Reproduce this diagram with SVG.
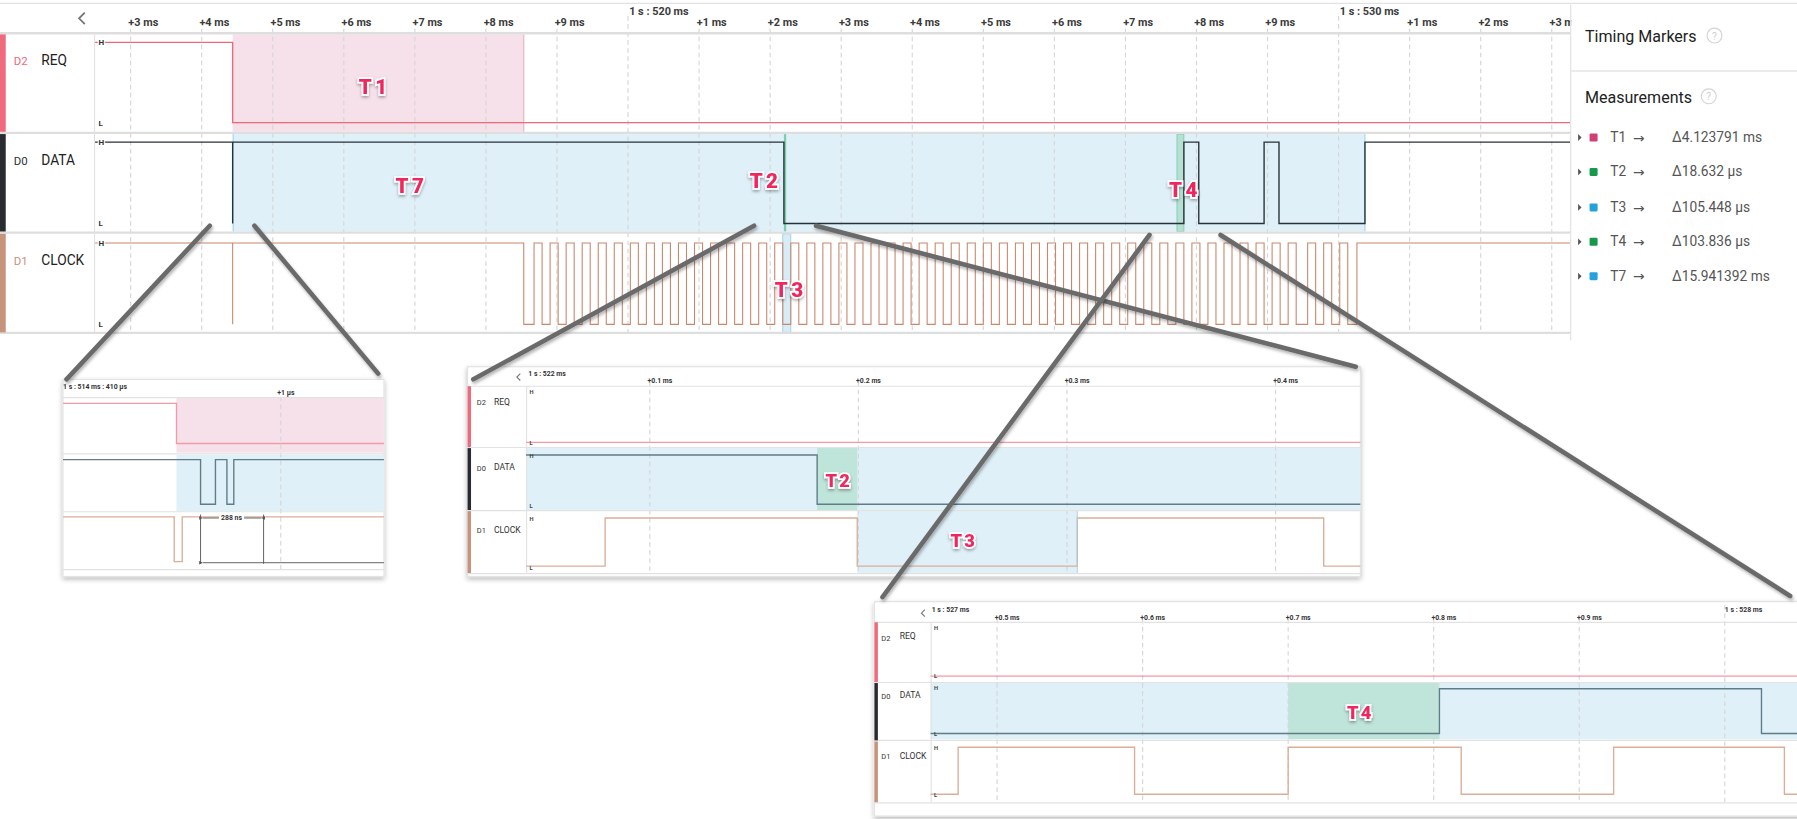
<svg xmlns="http://www.w3.org/2000/svg" width="1797" height="819" viewBox="0 0 1797 819">
<defs>
<filter id="sh" x="-30%" y="-30%" width="160%" height="160%"><feDropShadow dx="0" dy="1.5" stdDeviation="1.5" flood-color="#000" flood-opacity="0.35"/></filter>
<filter id="boxsh" x="-5%" y="-8%" width="110%" height="120%"><feDropShadow dx="0" dy="2" stdDeviation="2.5" flood-color="#000" flood-opacity="0.28"/></filter>
<filter id="lsh" x="-10%" y="-10%" width="120%" height="120%"><feDropShadow dx="1" dy="2" stdDeviation="1.5" flood-color="#000" flood-opacity="0.3"/></filter>
<marker id="ah" viewBox="0 0 6 6" refX="0" refY="3" markerWidth="4" markerHeight="4" orient="auto-start-reverse"><path d="M6,0 L0,3 L6,6 z" fill="#555"/></marker>
</defs>
<style>
text{font-family:Roboto,'Liberation Sans',sans-serif}
.tick{font-size:9.5px;font-weight:bold;fill:#3a3a3a}
.grid{stroke:#d6d6d6;stroke-width:1;stroke-dasharray:4 3;fill:none}
.sep{stroke:#dedede;stroke-width:2}
.thin{stroke:#e2e2e2;stroke-width:1}
.ch{font-size:12px;fill:#222}
.chid{font-size:10px}
.hl{font-size:7px;font-weight:bold;fill:#333;stroke:#fff;stroke-width:2;paint-order:stroke}
.mk{font-size:18px;font-weight:900;fill:#f0285f;stroke:#fff;stroke-width:3;paint-order:stroke;letter-spacing:3px;filter:url(#sh)}
.mks{font-size:16px;font-weight:900;fill:#f0285f;stroke:#fff;stroke-width:3;paint-order:stroke;letter-spacing:2px;filter:url(#sh)}
.req{stroke:#f06878;stroke-width:1.2;fill:none}
.dat{stroke:#263238;stroke-width:1.2;fill:none}
.clk{stroke:#c9886c;stroke-width:0.95;fill:none}
.ireq{stroke:#f49aa6;stroke-width:1.2;fill:none}
.idat{stroke:#5f7c87;stroke-width:1.2;fill:none}
.iclk{stroke:#dcae98;stroke-width:1.2;fill:none}
.t1f{fill:#f6e1ea}
.t7f{fill:#dff0f8}
.grf{fill:#bfe4da}
.itick{font-size:6px;font-weight:bold;fill:#333}
.ich{font-size:7.5px;fill:#333}
.ichid{font-size:6.5px}
.ihl{font-size:5px;font-weight:bold;fill:#444}
.inset{fill:#fff;stroke:#e3e3e3;stroke-width:1;filter:url(#boxsh)}
.conn{stroke:#6a6a6a;stroke-width:4;stroke-linecap:round;fill:none;filter:url(#lsh)}
.pan{font-size:14px;fill:#222}
.row{font-size:12px;fill:#555}
.arr{font-size:12px;fill:#555;font-family:'DejaVu Sans',sans-serif}
.q{fill:none;stroke:#d4d4d4;stroke-width:1}
.qt{font-size:9px;fill:#cfcfcf}
</style>

<rect width="1797" height="819" fill="#fff"/>

<g id="scene" transform="scale(1.14605)">

<!-- MAIN TIMELINE -->
<g id="main-view">
  <line x1="0" y1="3" x2="1600" y2="3" class="thin" stroke-width="2"/>
  <polyline points="74,11 69,16 74,21" fill="none" stroke="#777" stroke-width="1.6"/>
  <rect x="203" y="30" width="254" height="85" class="t1f"/>
  <line x1="457" y1="30" x2="457" y2="115" stroke="#e8b2c4" stroke-width="1"/>
  <rect x="203" y="117" width="988" height="85" class="t7f"/>
  <line x1="203.5" y1="117" x2="203.5" y2="202" stroke="#a6d6ea" stroke-width="1"/>
  <line x1="1191" y1="117" x2="1191" y2="202" stroke="#a6d6ea" stroke-width="1"/>
  <rect x="684" y="117" width="2" height="85" fill="#7fcdb0"/>
  <rect x="1027" y="117" width="6" height="85" fill="#b5e0d2" stroke="#86cbb2" stroke-width="0.8"/>
  <rect x="683" y="204" width="7" height="86" fill="#d7ecf6" stroke="#9fcfe3" stroke-width="0.8"/>
  <g class="grid">
    <path d="M114,25V290M176,25V290M238,25V290M300,25V290M362,25V290M424,25V290M486,25V290M548,14V290M610,25V290M672,25V290M734,25V290M796,25V290M858,25V290M920,25V290M982,25V290M1044,25V290M1106,25V290M1168,14V290M1230,25V290M1292,25V290M1354,25V290"/>
  </g>
  <g class="tick">
    <text x="112" y="23">+3 ms</text><text x="174" y="23">+4 ms</text><text x="236" y="23">+5 ms</text>
    <text x="298" y="23">+6 ms</text><text x="360" y="23">+7 ms</text><text x="422" y="23">+8 ms</text>
    <text x="484" y="23">+9 ms</text><text x="549" y="13">1 s : 520 ms</text><text x="608" y="23">+1 ms</text>
    <text x="670" y="23">+2 ms</text><text x="732" y="23">+3 ms</text><text x="794" y="23">+4 ms</text>
    <text x="856" y="23">+5 ms</text><text x="918" y="23">+6 ms</text><text x="980" y="23">+7 ms</text>
    <text x="1042" y="23">+8 ms</text><text x="1104" y="23">+9 ms</text><text x="1169" y="13">1 s : 530 ms</text>
    <text x="1228" y="23">+1 ms</text><text x="1290" y="23">+2 ms</text><text x="1352" y="23">+3 ms</text>
  </g>
  <line x1="0" y1="29" x2="1370" y2="29" class="sep"/>
  <line x1="0" y1="116" x2="1370" y2="116" class="sep"/>
  <line x1="0" y1="203" x2="1370" y2="203" class="sep"/>
  <line x1="0" y1="290.5" x2="1370" y2="290.5" class="sep"/>
  <line x1="82.5" y1="30" x2="82.5" y2="290" class="thin"/>
  <rect x="0" y="30" width="5" height="85" fill="#f06a7e"/>
  <rect x="0" y="117" width="5" height="85" fill="#2a2b30"/>
  <rect x="0" y="204" width="5" height="86" fill="#c8937b"/>
</g>

<g id="node-req">
  <text x="12" y="57" class="chid" fill="#f06a7e">D2</text>
  <text x="36" y="57" class="ch">REQ</text>
  <path class="req" d="M83,37 H203 V107 H1370"/>
  <text x="86" y="39.5" class="hl">H</text>
  <text x="86" y="110" class="hl">L</text>
</g>

<g id="node-data">
  <text x="12" y="144" class="chid" fill="#333">D0</text>
  <text x="36" y="144" class="ch">DATA</text>
  <path class="dat" d="M83,124 H203 V195 V124 H684 V195 H1033 V124 H1046 V195 H1103 V124 H1116 V195 H1191 V124 H1370"/>
  <text x="86" y="126.5" class="hl">H</text>
  <text x="86" y="197" class="hl">L</text>
</g>

<g id="node-clock">
  <text x="12" y="231" class="chid" fill="#c8937b">D1</text>
  <text x="36" y="231" class="ch">CLOCK</text>
  <path class="clk" d="M83,212 H203 V283 V212 H457 V283 H466V212H473V283 H480V212H487V283 H494V212H501V283 H508V212H515V283 H522V212H529V283 H536V212H543V283 H550V212H557V283 H564V212H571V283 H578V212H585V283 H592V212H599V283 H606V212H613V283 H620V212H627V283 H634V212H641V283 H648V212H655V283 H662V212H669V283 H676V212H683V283 H690V212H697V283 H704V212H711V283 H718V212H725V283 H732V212H739V283 H746V212H753V283 H760V212H767V283 H774V212H781V283 H788V212H795V283 H802V212H809V283 H816V212H823V283 H830V212H837V283 H844V212H851V283 H858V212H865V283 H872V212H879V283 H886V212H893V283 H900V212H907V283 H914V212H921V283 H928V212H935V283 H942V212H949V283 H956V212H963V283 H970V212H977V283 H984V212H991V283 H998V212H1005V283 H1012V212H1019V283 H1026V212H1033V283 H1040V212H1047V283 H1054V212H1061V283 H1068V212H1075V283 H1082V212H1089V283 H1096V212H1103V283 H1110V212H1117V283 H1124V212H1131V283 H1141V212H1148V283 H1155V212H1162V283 H1169V212H1176V283 H1184V212H1370"/>
  <text x="86" y="214.5" class="hl">H</text>
  <text x="86" y="285" class="hl">L</text>
</g>

<g id="markers-main">
  <text x="327" y="82" class="mk" text-anchor="middle">T1</text>
  <text x="359" y="168" class="mk" text-anchor="middle">T7</text>
  <text x="668" y="164" class="mk" text-anchor="middle">T2</text>
  <text x="1034" y="172" class="mk" text-anchor="middle">T4</text>
  <text x="690" y="259" class="mk" text-anchor="middle">T3</text>
</g>

<!-- RIGHT PANEL -->
<g id="side-panel">
  <rect x="1371" y="4" width="230" height="293" fill="#fff"/>
  <line x1="1370.5" y1="4" x2="1370.5" y2="297" class="thin"/>
  <line x1="1371" y1="62" x2="1600" y2="62" stroke="#e4e4e4" stroke-width="1.2"/>
  <text x="1383" y="37" class="pan">Timing Markers</text>
  <circle cx="1496" cy="31" r="6.5" class="q"/><text x="1496" y="34.5" class="qt" text-anchor="middle">?</text>
  <text x="1383" y="90" class="pan">Measurements</text>
  <circle cx="1491" cy="84" r="6.5" class="q"/><text x="1491" y="87.5" class="qt" text-anchor="middle">?</text>
  <g id="m-T1">
    <path d="M1377,117 L1380,120 L1377,123 z" fill="#555"/>
    <rect x="1387" y="116.5" width="7" height="7" rx="1" fill="#d23f75"/>
    <text x="1405" y="124" class="row">T1</text><text x="1425" y="124.5" class="arr">→</text><text x="1459" y="124" class="row">Δ4.123791 ms</text>
  </g>
  <g id="m-T2">
    <path d="M1377,147 L1380,150 L1377,153 z" fill="#555"/>
    <rect x="1387" y="146.5" width="7" height="7" rx="1" fill="#16994a"/>
    <text x="1405" y="154" class="row">T2</text><text x="1425" y="154.5" class="arr">→</text><text x="1459" y="154" class="row">Δ18.632 µs</text>
  </g>
  <g id="m-T3">
    <path d="M1377,178 L1380,181 L1377,184 z" fill="#555"/>
    <rect x="1387" y="177.5" width="7" height="7" rx="1" fill="#25a1dd"/>
    <text x="1405" y="185" class="row">T3</text><text x="1425" y="185.5" class="arr">→</text><text x="1459" y="185" class="row">Δ105.448 µs</text>
  </g>
  <g id="m-T4">
    <path d="M1377,208 L1380,211 L1377,214 z" fill="#555"/>
    <rect x="1387" y="207.5" width="7" height="7" rx="1" fill="#16994a"/>
    <text x="1405" y="215" class="row">T4</text><text x="1425" y="215.5" class="arr">→</text><text x="1459" y="215" class="row">Δ103.836 µs</text>
  </g>
  <g id="m-T7">
    <path d="M1377,238 L1380,241 L1377,244 z" fill="#555"/>
    <rect x="1387" y="237.5" width="7" height="7" rx="1" fill="#25a1dd"/>
    <text x="1405" y="245" class="row">T7</text><text x="1425" y="245.5" class="arr">→</text><text x="1459" y="245" class="row">Δ15.941392 ms</text>
  </g>
</g>

<!-- INSET 1 -->
<g id="inset-1">
  <rect x="55" y="331" width="280" height="172" class="inset"/>
  <text x="55" y="339" class="itick" font-size="5.5">1 s : 514 ms : 410 µs</text>
  <text x="242" y="345" class="itick" font-size="5.5">+1 µs</text>
  <rect x="154" y="347" width="181" height="48" class="t1f"/>
  <rect x="154" y="397" width="181" height="49" class="t7f"/>
  <line x1="245" y1="346" x2="245" y2="497" class="grid" stroke-width="0.7" stroke-dasharray="3 2"/>
  <line x1="55" y1="347" x2="335" y2="347" class="thin"/>
  <line x1="55" y1="396" x2="335" y2="396" class="thin"/>
  <line x1="55" y1="446.5" x2="335" y2="446.5" class="thin"/>
  <line x1="55" y1="497" x2="335" y2="497" class="thin"/>
  <path class="ireq" d="M55,352 H154 V387 H335"/>
  <path class="idat" d="M55,401 H175 V440 H188 V401 H198 V440 H204 V401 H335"/>
  <path class="iclk" d="M55,451 H152 V490 H159 V451 H335"/>
  <g stroke="#555" stroke-width="0.8" fill="none">
    <line x1="175" y1="449" x2="175" y2="492"/>
    <line x1="230" y1="449" x2="230" y2="492"/>
    <line x1="177" y1="452" x2="228" y2="452" marker-start="url(#ah)" marker-end="url(#ah)"/>
    <line x1="177" y1="491" x2="335" y2="491" marker-start="url(#ah)"/>
  </g>
  <rect x="191" y="449" width="22" height="6" fill="#fff"/>
  <text x="202" y="454" class="itick" font-size="5" font-weight="normal" text-anchor="middle">288 ns</text>
</g>

<!-- INSET 2 -->
<g id="inset-2">
  <rect x="408" y="320" width="779" height="183" class="inset"/>
  <polyline points="454,326 451,329 454,332" fill="none" stroke="#777" stroke-width="1"/>
  <text x="461" y="328" class="itick">1 s : 522 ms</text>
  <rect x="459" y="391" width="728" height="54" class="t7f"/>
  <rect x="713" y="391" width="35" height="54" class="grf"/>
  <rect x="748" y="446" width="192" height="54" class="t7f"/>
  <g class="grid" stroke-width="0.7" stroke-dasharray="3 2">
    <path d="M567,333V500M749,333V500M931,333V500M1113,333V500"/>
  </g>
  <g class="itick">
    <text x="565" y="334">+0.1 ms</text><text x="747" y="334">+0.2 ms</text><text x="929" y="334">+0.3 ms</text><text x="1111" y="334">+0.4 ms</text>
  </g>
  <line x1="408" y1="337" x2="1187" y2="337" class="thin"/>
  <line x1="408" y1="390.5" x2="1187" y2="390.5" class="thin"/>
  <line x1="408" y1="445.5" x2="1187" y2="445.5" class="thin"/>
  <line x1="408" y1="500.5" x2="1187" y2="500.5" class="thin"/>
  <line x1="459.5" y1="337" x2="459.5" y2="500" class="thin"/>
  <rect x="408" y="337" width="3" height="53" fill="#f06a7e"/>
  <rect x="408" y="391" width="3" height="54" fill="#2a2b30"/>
  <rect x="408" y="446" width="3" height="54" fill="#c8937b"/>
  <text x="416" y="353" class="ich ichid" fill="#f06a7e">D2</text><text x="431" y="353" class="ich">REQ</text>
  <text x="416" y="411" class="ich ichid" fill="#333">D0</text><text x="431" y="410" class="ich">DATA</text>
  <text x="416" y="465" class="ich ichid" fill="#c8937b">D1</text><text x="431" y="465" class="ich">CLOCK</text>
  <path class="ireq" d="M459,386 H1187"/>
  <path class="idat" d="M459,397 H713 V440 H1187"/>
  <path class="iclk" d="M459,494 H528 V452 H748 V494 H940 V452 H1155 V494 H1187"/>
  <line x1="940" y1="446" x2="940" y2="500" stroke="#a9cfe0" stroke-width="0.8"/>
  <text x="462" y="344" class="ihl">H</text><text x="462" y="388" class="ihl">L</text>
  <text x="462" y="400" class="ihl">H</text><text x="462" y="443" class="ihl">L</text>
  <text x="462" y="455" class="ihl">H</text><text x="462" y="497" class="ihl">L</text>
  <text x="732" y="425" class="mks" text-anchor="middle">T2</text>
  <text x="841" y="477" class="mks" text-anchor="middle">T3</text>
</g>

<!-- INSET 3 -->
<g id="inset-3">
  <rect x="763" y="525" width="820" height="187" class="inset"/>
  <polyline points="807,532 804,535 807,538" fill="none" stroke="#777" stroke-width="1"/>
  <text x="813" y="534" class="itick">1 s : 527 ms</text>
  <rect x="812" y="596" width="770" height="49" class="t7f"/>
  <rect x="1124" y="596" width="132" height="49" class="grf"/>
  <g class="grid" stroke-width="0.7" stroke-dasharray="3 2">
    <path d="M870,540V700M997,540V700M1124,540V700M1251,540V700M1378,540V700M1505,528V700"/>
  </g>
  <g class="itick">
    <text x="868" y="541">+0.5 ms</text><text x="995" y="541">+0.6 ms</text><text x="1122" y="541">+0.7 ms</text><text x="1249" y="541">+0.8 ms</text><text x="1376" y="541">+0.9 ms</text><text x="1505" y="534">1 s : 528 ms</text>
  </g>
  <line x1="763" y1="543" x2="1582" y2="543" class="thin"/>
  <line x1="763" y1="595.5" x2="1582" y2="595.5" class="thin"/>
  <line x1="763" y1="646" x2="1582" y2="646" class="thin"/>
  <line x1="763" y1="700.5" x2="1582" y2="700.5" class="thin"/>
  <line x1="812.5" y1="543" x2="812.5" y2="700" class="thin"/>
  <rect x="763" y="543" width="3" height="52" fill="#f06a7e"/>
  <rect x="763" y="596" width="3" height="50" fill="#2a2b30"/>
  <rect x="763" y="647" width="3" height="53" fill="#c8937b"/>
  <text x="769" y="559" class="ich ichid" fill="#f06a7e">D2</text><text x="785" y="558" class="ich">REQ</text>
  <text x="769" y="610" class="ich ichid" fill="#333">D0</text><text x="785" y="609" class="ich">DATA</text>
  <text x="769" y="662" class="ich ichid" fill="#c8937b">D1</text><text x="785" y="662" class="ich">CLOCK</text>
  <path class="ireq" d="M812,590 H1582"/>
  <path class="idat" d="M812,640 H1256 V601 H1537 V640 H1582"/>
  <path class="iclk" d="M812,693 H836 V652 H990 V693 H1124 V652 H1275 V693 H1408 V652 H1557 V693 H1582"/>
  <text x="815" y="550" class="ihl">H</text><text x="815" y="592" class="ihl">L</text>
  <text x="815" y="602" class="ihl">H</text><text x="815" y="642" class="ihl">L</text>
  <text x="815" y="654" class="ihl">H</text><text x="815" y="695" class="ihl">L</text>
  <text x="1187" y="627" class="mks" text-anchor="middle">T4</text>
</g>

<!-- CONNECTORS -->
<g id="connectors">
  <line class="conn" x1="183" y1="197" x2="58" y2="331"/>
  <line class="conn" x1="222" y1="197" x2="330" y2="326"/>
  <line class="conn" x1="658" y1="197" x2="413" y2="331"/>
  <line class="conn" x1="712" y1="197" x2="1183" y2="320"/>
  <line class="conn" x1="1003" y1="205" x2="770" y2="521"/>
  <line class="conn" x1="1065" y1="205" x2="1562" y2="520"/>
</g>

</g>
</svg>
